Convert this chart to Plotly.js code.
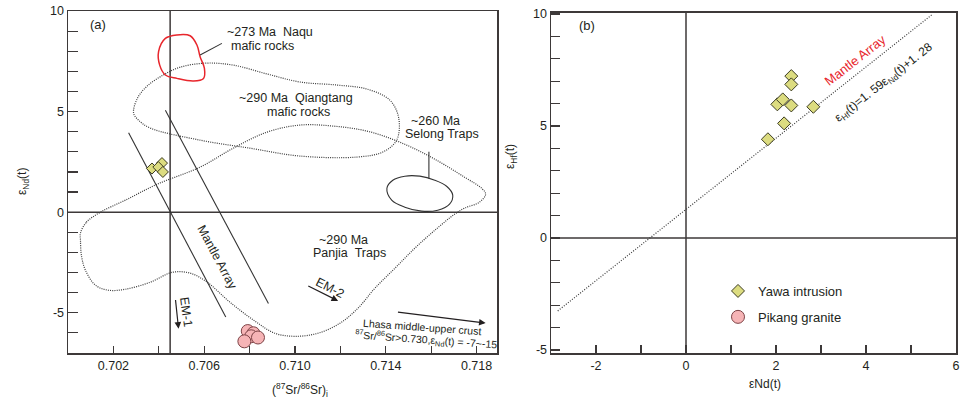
<!DOCTYPE html>
<html>
<head>
<meta charset="utf-8">
<script src="https://cdn.plot.ly/plotly-3.0.1.min.js"></script>
<style>html,body{margin:0;padding:0;background:#fff}#chart{width:968px;height:400px}</style>
</head>
<body>
<div id="chart"></div>
<script>
// ---------- Panel (a) data: (87Sr/86Sr)i vs eNd(t) ----------
const yawaSr = [0.70370, 0.70414, 0.70398, 0.70418];
const yawaNdA = [2.17, 2.44, 2.24, 2.00];
const pikangSr = [0.70792, 0.70817, 0.70807, 0.70837, 0.70777];
const pikangNd = [-5.91, -6.02, -6.17, -6.23, -6.42];

// reference fields (outlines)
const naquSr = [0.70399,0.70429,0.70480,0.70538,0.70568,0.70582,0.70601,0.70597,0.70553,0.70480,0.70429,0.70404,0.70399];
const naquNd = [7.98,8.64,8.81,8.77,8.31,7.73,7.15,6.65,6.52,6.65,6.82,7.31,7.98];
const qiangSr = [0.70289,0.70306,0.70349,0.70420,0.70495,0.70609,0.70728,0.70877,0.71022,0.71185,0.71317,0.71418,0.71457,0.71448,0.71387,0.71273,0.71022,0.70802,0.70582,0.70363,0.70310,0.70289];
const qiangNd = [4.93,5.67,6.27,6.82,7.21,7.41,7.31,6.87,6.47,6.32,6.12,5.57,4.68,3.58,2.99,2.74,2.79,3.18,3.58,4.18,4.58,4.93];
const panjiaSr = [0.70055,0.70081,0.70143,0.70253,0.70393,0.70582,0.70728,0.70877,0.71022,0.71167,0.71317,0.71462,0.71607,0.71747,0.71822,0.71840,0.71813,0.71747,0.71703,0.71616,0.71528,0.71440,0.71352,0.71277,0.71198,0.71101,0.71000,0.70912,0.70824,0.70714,0.70613,0.70538,0.70459,0.70363,0.70253,0.70178,0.70121,0.70077,0.70059,0.70055,0.70055];
const panjiaNd = [-1.04,-0.50,0.00,0.60,1.39,2.24,3.18,3.98,4.33,4.28,4.03,3.48,2.69,1.74,1.19,0.90,0.50,0.20,-0.10,-0.90,-1.79,-2.79,-3.78,-4.78,-5.52,-6.02,-6.17,-6.02,-5.42,-4.48,-3.48,-3.03,-2.99,-3.48,-3.83,-3.88,-3.63,-2.89,-2.14,-1.39,-1.04];
const selongSr = [0.71405,0.71431,0.71484,0.71550,0.71616,0.71668,0.71695,0.71681,0.71629,0.71558,0.71484,0.71426,0.71405];
const selongNd = [1.19,1.59,1.79,1.79,1.59,1.29,0.85,0.40,0.10,0.05,0.25,0.60,1.19];
const mantle1Sr = [0.70267, 0.70695];
const mantle1Nd = [3.95, -5.21];
const mantle2Sr = [0.70429, 0.70883];
const mantle2Nd = [5.07, -4.54];
const naquLeaderSr = [0.70582, 0.70678];
const naquLeaderNd = [7.81, 8.39];
const selongLeaderSr = [0.71590, 0.71590];
const selongLeaderNd = [3.00, 1.68];
const refSrA = 0.7045, refNdA = 0;
// arrows [tailX, tailY, headX, headY]
const em1Arrow = [0.70473, -4.29, 0.70487, -5.79];
const em2Arrow = [0.71052, -3.63, 0.71190, -4.41];
const lhasaArrow = [0.71447, -4.96, 0.71840, -5.51];

const xTicksA = [0.702, 0.706, 0.710, 0.714, 0.718];
const xTickTextA = ['0.702', '0.706', '0.710', '0.714', '0.718'];
const xMinorA = [0.704, 0.708, 0.712, 0.716];
const yTicksA = [-5, 0, 5, 10];
const yTickTextA = ['-5', '0', '5', '10'];
const yMinorA = [-6,-4,-3,-2,-1,1,2,3,4,6,7,8,9];

// ---------- Panel (b) data: eNd(t) vs eHf(t) ----------
const yawaNdB = [2.34, 2.34, 2.03, 2.15, 2.34, 2.83, 2.18, 1.82];
const yawaHf = [7.23, 6.86, 5.97, 6.19, 5.92, 5.86, 5.12, 4.41];
const arraySlope = 1.59, arrayIntercept = 1.28;
const arrayNd = [-2.85, 5.47];
const arrayHf = arrayNd.map(v => arraySlope * v + arrayIntercept);
const xTicksB = [-2, 0, 2, 4, 6];
const xTickTextB = ['-2', '0', '2', '4', '6'];
const xMinorB = [-1, 1, 3, 5];
const yTicksB = [-5, 0, 5, 10];
const yTickTextB = ['-5', '0', '5', '10'];
const yMinorB = [-4,-3,-2,-1,1,2,3,4,6,7,8,9];

// ---------- styling ----------
const W = 968, H = 400;
const FONT = 'Liberation Sans, Arial, sans-serif';
const INK = '#231f20';
const AX = '#3d3939';
const px = x => x / W;
const py = y => 1 - y / H;

const diamond = {symbol:'diamond', color:'#dcdc80', line:{color:'#3b3b22', width:1}};
const circle = {symbol:'circle', color:'#f6b4b6', line:{color:'#7d4346', width:1}};
const dotted = {color:'#3a3a3a', width:1.2, dash:'1px,1.2px', shape:'spline', smoothing:1};
const solid = {color:'#333', width:1.1};

function lineTrace(x, y, line, xa, ya) {
  return {x, y, mode:'lines', line, xaxis:xa, yaxis:ya, showlegend:false, hoverinfo:'skip'};
}

const traces = [
  lineTrace(qiangSr, qiangNd, dotted, 'x', 'y'),
  lineTrace(panjiaSr, panjiaNd, dotted, 'x', 'y'),
  lineTrace(naquSr, naquNd, {color:'#e8262c', width:1.5, shape:'spline', smoothing:1}, 'x', 'y'),
  lineTrace(selongSr, selongNd, {color:'#333', width:1.1, shape:'spline', smoothing:1}, 'x', 'y'),
  lineTrace(mantle1Sr, mantle1Nd, solid, 'x', 'y'),
  lineTrace(mantle2Sr, mantle2Nd, solid, 'x', 'y'),
  lineTrace(naquLeaderSr, naquLeaderNd, solid, 'x', 'y'),
  lineTrace(selongLeaderSr, selongLeaderNd, solid, 'x', 'y'),
  lineTrace(arrayNd, arrayHf, {color:'#3a3a3a', width:1.2, dash:'1px,1.6px'}, 'x2', 'y2'),
  {x:yawaSr, y:yawaNdA, mode:'markers', name:'Yawa intrusion', legendgroup:'yawa', showlegend:false,
   marker:Object.assign({size:8.5}, diamond), xaxis:'x', yaxis:'y'},
  {x:pikangSr, y:pikangNd, mode:'markers', name:'Pikang granite', legendgroup:'pikang', legendrank:2, showlegend:true,
   marker:Object.assign({size:13}, circle), xaxis:'x', yaxis:'y'},
  {x:yawaNdB, y:yawaHf, mode:'markers', name:'Yawa intrusion', legendgroup:'yawa', legendrank:1, showlegend:true,
   marker:Object.assign({size:10}, diamond), xaxis:'x2', yaxis:'y2'}
];

function ann(text, x, y, opts) {
  return Object.assign({text, x:px(x), y:py(y), xref:'paper', yref:'paper', showarrow:false,
    font:{family:FONT, size:12.5, color:INK}, xanchor:'center', yanchor:'middle'}, opts || {});
}
function arrow(a) {
  return {x:a[2], y:a[3], ax:a[0], ay:a[1], xref:'x', yref:'y', axref:'x', ayref:'y', text:'',
    showarrow:true, arrowhead:2, arrowsize:1.1, arrowwidth:1.2, arrowcolor:'#231f20', standoff:0, startstandoff:0};
}
const sp = '\u00a0';
const annotations = [
  ann('(a)', 98, 24, {font:{family:FONT, size:13, color:INK}}),
  ann('~273 Ma' + sp + sp + 'Naqu', 225, 32, {xanchor:'left'}),
  ann('mafic rocks', 229, 46, {xanchor:'left'}),
  ann('~290 Ma' + sp + sp + 'Qiangtang', 296, 98),
  ann('mafic rocks', 298, 112),
  ann('~260 Ma', 435, 121),
  ann('Selong Traps', 442, 134),
  ann('~290 Ma', 317, 240, {xanchor:'left'}),
  ann('Panjia' + sp + sp + 'Traps', 311, 253, {xanchor:'left'}),
  ann('Mantle Array', 217, 257, {textangle:62}),
  ann('EM-1', 186, 312, {textangle:82}),
  ann('EM-2', 330, 288, {textangle:27}),
  ann('Lhasa middle-upper crust', 422, 327, {textangle:4, font:{family:FONT, size:10.5, color:INK}}),
  ann('<sup>87</sup>Sr/<sup>86</sup>Sr>0.730,ε<sub>Nd</sub>(t) = -7~-15', 426, 340, {textangle:4, font:{family:FONT, size:10.5, color:INK}}),
  ann('(<sup>87</sup>Sr/<sup>86</sup>Sr)<sub>i</sub>', 300, 390, {font:{family:FONT, size:12, color:INK}}),
  ann('ε<sub>Nd</sub>(t)', 23, 182, {textangle:-90, font:{family:FONT, size:12, color:INK}}),
  ann('(b)', 587, 25, {font:{family:FONT, size:13, color:INK}}),
  ann('ε<sub>Hf</sub>(t)', 511, 157, {textangle:-90, font:{family:FONT, size:12, color:INK}}),
  ann('εNd(t)', 765, 384, {font:{family:FONT, size:12, color:INK}}),
  ann('Mantle Array', 855, 61, {textangle:-38, font:{family:FONT, size:13, color:'#e8262c'}}),
  ann('ε<sub>Hf</sub>(t)=1. 59ε<sub>Nd</sub>(t)+1. 28', 884, 83, {textangle:-38, font:{family:FONT, size:12, color:INK}}),
  arrow(em1Arrow), arrow(em2Arrow), arrow(lhasaArrow)
];

const refLine = {color:AX, width:1.5};
const shapes = [
  {type:'line', xref:'x', yref:'y domain', x0:refSrA, x1:refSrA, y0:0, y1:1, line:refLine, layer:'below'},
  {type:'line', xref:'x domain', yref:'y', x0:0, x1:1, y0:refNdA, y1:refNdA, line:refLine, layer:'below'},
  {type:'line', xref:'x2', yref:'y2 domain', x0:0, x1:0, y0:0, y1:1, line:refLine, layer:'below'},
  {type:'line', xref:'x2 domain', yref:'y2', x0:0, x1:1, y0:0, y1:0, line:refLine, layer:'below'}
];

function axis(extra, minorVals, len) {
  return Object.assign({showgrid:false, zeroline:false, showline:true, mirror:true, linecolor:AX, linewidth:1.5,
    ticks:'inside', tickcolor:AX, tickwidth:1.2, tickmode:'array', fixedrange:true, ticklen:len,
    minor:{tickmode:'array', tickvals:minorVals, ticks:'inside', ticklen:len, tickcolor:AX, tickwidth:1.2, showgrid:false},
    tickfont:{family:FONT, size:12.5, color:INK}}, extra);
}

const layout = {
  width:W, height:H, margin:{l:0, r:0, t:0, b:0}, paper_bgcolor:'#fff', plot_bgcolor:'#fff',
  font:{family:FONT, color:INK},
  xaxis: axis({domain:[px(68), px(497)], range:[0.700, 0.7189], tickvals:xTicksA, ticktext:xTickTextA, anchor:'y'}, xMinorA, 7),
  yaxis: axis({domain:[py(353), py(11)], range:[-7, 10], tickvals:yTicksA, ticktext:yTickTextA, anchor:'x'}, yMinorA, 10),
  xaxis2: axis({domain:[px(551), px(956)], range:[-3, 6], tickvals:xTicksB, ticktext:xTickTextB, anchor:'y2'}, xMinorB, 8),
  yaxis2: axis({domain:[py(353), py(12.7)], range:[-5.13, 10.06], tickvals:yTicksB, ticktext:yTickTextB, anchor:'x2'}, yMinorB, 9),
  showlegend:true,
  legend:{x:px(718), y:py(276), xanchor:'left', yanchor:'top', bgcolor:'rgba(0,0,0,0)', borderwidth:0,
    traceorder:'grouped', tracegroupgap:6, font:{family:FONT, size:13, color:INK}},
  shapes, annotations
};

Plotly.newPlot('chart', traces, layout, {staticPlot:true, displayModeBar:false});
</script>
</body>
</html>
